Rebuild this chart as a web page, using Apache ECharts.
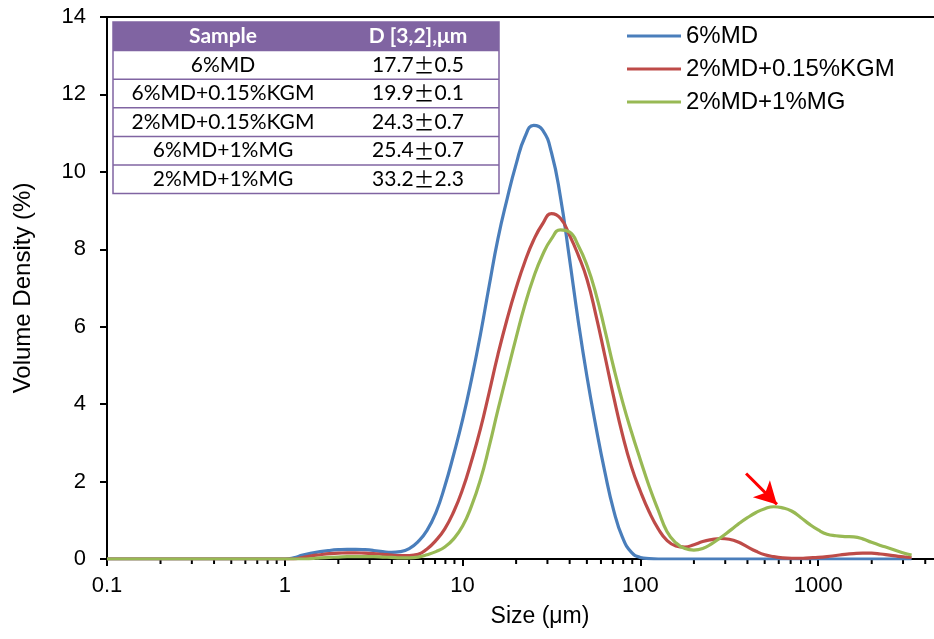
<!DOCTYPE html>
<html>
<head>
<meta charset="utf-8">
<script src="https://cdn.jsdelivr.net/npm/echarts@6/dist/echarts.min.js"></script>
<style>
  html, body { margin: 0; padding: 0; background: #fff; }
  #chart { width: 934px; height: 639px; }
</style>
</head>
<body>
<div id="chart"></div>
<script>
// particle size (μm), log-spaced
const sizes = [0.1, 1.00, 1.12, 1.26, 1.41, 1.58, 1.78, 2.00, 2.24, 2.51, 2.82, 3.16, 3.55, 3.98, 4.47, 5.01, 5.62,
  6.31, 7.08, 7.94, 8.91, 10.0, 11.2, 12.6, 14.1, 15.8, 17.8, 20.0, 22.4, 25.1, 28.2, 31.6, 35.5,
  39.8, 44.7, 50.1, 56.2, 63.1, 70.8, 79.4, 89.1, 100, 112, 126, 141, 158, 178, 200, 224,
  251, 282, 316, 355, 398, 447, 501, 562, 631, 708, 794, 891, 1000, 1122, 1259, 1413,
  1585, 1778, 1995, 2239, 2512, 2818, 3162, 3350]

// volume density (%)
const md6 = [0, 0, 0.03, 0.10, 0.15, 0.19, 0.22, 0.24, 0.25, 0.25, 0.24, 0.22, 0.19, 0.17, 0.19, 0.27, 0.45,
  0.74, 1.2, 1.88, 2.7, 3.6, 4.62, 5.8, 7.05, 8.27, 9.3, 10.2, 10.9, 11.2, 11.08, 10.5, 9.35,
  7.8, 6.15, 4.7, 3.42, 2.25, 1.25, 0.55, 0.17, 0.04, 0.01, 0, 0, 0, 0, 0, 0,
  0, 0, 0, 0, 0, 0, 0, 0, 0, 0, 0, 0, 0, 0, 0, 0,
  0, 0, 0, 0, 0, 0, 0, 0]
const kgm = [0, 0, 0, 0.04, 0.08, 0.11, 0.14, 0.15, 0.16, 0.16, 0.15, 0.14, 0.12, 0.10, 0.09, 0.09, 0.12,
  0.26, 0.48, 0.78, 1.22, 1.8, 2.52, 3.36, 4.3, 5.28, 6.2, 7.0, 7.68, 8.24, 8.66, 8.92, 8.8,
  8.38, 7.85, 7.22, 6.3, 5.25, 4.18, 3.2, 2.38, 1.75, 1.22, 0.78, 0.48, 0.34, 0.31, 0.37, 0.45,
  0.5, 0.53, 0.51, 0.44, 0.32, 0.2, 0.11, 0.06, 0.03, 0.02, 0.02, 0.03, 0.04, 0.06, 0.09, 0.12,
  0.14, 0.15, 0.15, 0.13, 0.1, 0.07, 0.05, 0.04]
const mg = [0, 0, 0, 0, 0.01, 0.03, 0.04, 0.05, 0.06, 0.06, 0.06, 0.06, 0.05, 0.04, 0.03, 0.03, 0.05,
  0.11, 0.19, 0.31, 0.52, 0.85, 1.36, 2.05, 2.9, 3.85, 4.8, 5.72, 6.56, 7.28, 7.86, 8.27, 8.5,
  8.45, 8.1, 7.58, 6.85, 5.92, 4.94, 4.06, 3.28, 2.56, 1.88, 1.26, 0.71, 0.42, 0.27, 0.23, 0.27,
  0.39, 0.55, 0.72, 0.9, 1.06, 1.2, 1.3, 1.35, 1.32, 1.24, 1.08, 0.9, 0.75, 0.64, 0.6, 0.58,
  0.57, 0.52, 0.43, 0.35, 0.28, 0.2, 0.13, 0.10]

const seriesNames = ['6%MD', '2%MD+0.15%KGM', '2%MD+1%MG']
const seriesColors = ['#4A7EBB', '#BE4B48', '#98B954']

// inset table
const tableHeader = ['Sample', 'D [3,2],μm']
const sampleNames = ['6%MD', '6%MD+0.15%KGM', '2%MD+0.15%KGM', '6%MD+1%MG', '2%MD+1%MG']
const d32Mean = ['17.7', '19.9', '24.3', '25.4', '33.2']
const d32Sd = ['0.5', '0.1', '0.7', '0.7', '2.3']

// minor ticks of the log axis
const minorTicks = []
for (const base of [0.1, 1, 10, 100, 1000]) {
    for (let k = 2; k <= 9; k++) {
        if (base * k < 4480) minorTicks.push(base * k)
    }
}

// red arrow pointing at the ~600 μm peak
const arrowFrom = [393, 2.21]
const arrowTo = [586, 1.41]

const chart = echarts.init(document.getElementById('chart'))

// table graphic
const tableX = 113, tableY = 22, tableW = 386, rowH = 28.6
const col1 = 223, col2 = 418
const tableFont = '21px Lato'
const tableEls = []
tableEls.push({
    type: 'rect', shape: {x: tableX, y: tableY, width: tableW, height: rowH * 6},
    style: {fill: '#fff', stroke: '#8064A2', lineWidth: 1.5}
})
tableEls.push({
    type: 'rect', shape: {x: tableX, y: tableY, width: tableW, height: rowH},
    style: {fill: '#8064A2'}
})
for (let i = 1; i < 6; i++) {
    tableEls.push({
        type: 'line',
        shape: {x1: tableX, y1: tableY + rowH * i, x2: tableX + tableW, y2: tableY + rowH * i},
        style: {stroke: '#8064A2', lineWidth: 1.5}
    })
}
tableEls.push({
    type: 'text', style: {text: tableHeader[0], x: col1, y: tableY + rowH / 2, fill: '#fff',
        font: 'bold ' + tableFont, textAlign: 'center', textVerticalAlign: 'middle'}
})
tableEls.push({
    type: 'text', style: {text: tableHeader[1], x: col2, y: tableY + rowH / 2, fill: '#fff',
        font: 'bold ' + tableFont, textAlign: 'center', textVerticalAlign: 'middle'}
})
sampleNames.forEach((name, i) => {
    const cy = tableY + rowH * (i + 1.5)
    tableEls.push({
        type: 'text', style: {text: name, x: col1, y: cy, fill: '#000', font: tableFont,
            textAlign: 'center', textVerticalAlign: 'middle'}
    })
    tableEls.push({
        type: 'text', style: {
            text: '{n|' + d32Mean[i] + '}{pm|±}{n|' + d32Sd[i] + '}',
            x: col2, y: cy, textAlign: 'center', textVerticalAlign: 'middle',
            rich: {
                n: {fontFamily: 'Lato', fontSize: 21, fill: '#000', color: '#000'},
                pm: {fontFamily: 'Noto Sans CJK SC', fontSize: 21, fill: '#000', color: '#000'}
            }
        }
    })
})
tableEls.push({
    type: 'text', style: {text: 'Size (μm)', x: 540, y: 617, fill: '#000', font: '23px "Liberation Sans"',
        textAlign: 'center', textVerticalAlign: 'middle'}
})

const curves = [md6, kgm, mg].map((vals, idx) => ({
    name: seriesNames[idx],
    type: 'line',
    smooth: 0.5,
    showSymbol: false,
    lineStyle: {width: 3.2, color: seriesColors[idx]},
    itemStyle: {color: seriesColors[idx]},
    z: 3 + idx,
    data: sizes.map((s, i) => [s, vals[i]])
}))
curves[2].markLine = {
    silent: true,
    symbol: ['none', 'arrow'],
    symbolSize: [18, 22],
    label: {show: false},
    lineStyle: {color: '#FF0000', width: 3, type: 'solid'},
    data: [[{coord: arrowFrom}, {coord: arrowTo}]]
}

const option = {
    animation: false,
    textStyle: {fontFamily: 'Liberation Sans'},
    grid: {left: 107, right: 0, top: 17, bottom: 80},
    legend: {
        data: seriesNames,
        orient: 'vertical',
        left: 622,
        top: 19,
        icon: 'rect',
        itemWidth: 54,
        itemHeight: 3,
        itemGap: 9,
        textStyle: {fontSize: 24, color: '#000', lineHeight: 24}
    },
    xAxis: [{
        type: 'log',
        logBase: 10,
        min: 0.1,
        max: 4480,
        axisLine: {lineStyle: {color: '#000', width: 2}},
        axisTick: {show: true, length: 7, lineStyle: {color: '#000', width: 2}},
        axisLabel: {fontSize: 22, color: '#000', margin: 16, showMaxLabel: false,
            formatter: v => String(+v.toPrecision(6))},
        splitLine: {show: false}
    }, {
        type: 'value',
        position: 'top',
        min: 0, max: 1,
        axisLine: {show: true, lineStyle: {color: '#000', width: 2}},
        axisTick: {show: false},
        axisLabel: {show: false},
        splitLine: {show: false}
    }],
    yAxis: {
        type: 'value',
        min: 0,
        max: 14,
        interval: 2,
        name: 'Volume Density (%)',
        nameLocation: 'middle',
        nameGap: 72,
        nameTextStyle: {fontSize: 24, color: '#000'},
        axisLine: {show: true, lineStyle: {color: '#000', width: 2}},
        axisTick: {show: true, length: 7, lineStyle: {color: '#000', width: 2}},
        axisLabel: {fontSize: 22, color: '#000', margin: 21},
        splitLine: {show: false}
    },
    graphic: tableEls,
    series: curves
}
chart.setOption(option)

// draw the minor ticks at 2..9 x 10^k through the axis scale
const baseY = chart.convertToPixel({yAxisIndex: 0}, 0)
const tickEls = minorTicks.map(v => {
    const px = chart.convertToPixel({xAxisIndex: 0}, v)
    return {
        type: 'line', silent: true,
        shape: {x1: px, y1: baseY, x2: px, y2: baseY + 5},
        style: {stroke: '#000', lineWidth: 2}
    }
})
chart.setOption({graphic: tableEls.concat(tickEls)})
</script>
</body>
</html>
